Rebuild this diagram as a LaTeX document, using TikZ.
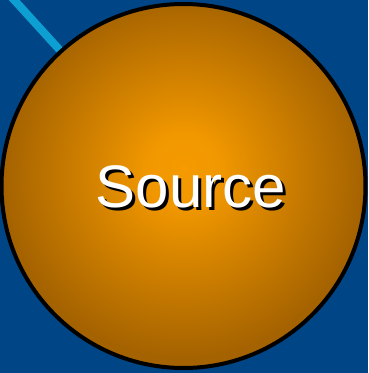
\documentclass[tikz,border=0pt]{standalone}
\usepackage{fontspec}
\setmainfont{Liberation Sans}
\usepackage{xcolor}
\usetikzlibrary{backgrounds}
\definecolor{bgblue}{HTML}{004585}
\definecolor{linkblue}{HTML}{0E9FD2}
\definecolor{glowin}{HTML}{F59A00}
\definecolor{glowout}{HTML}{A46200}
\pgfdeclareradialshading{sourceglow}{\pgfpoint{0bp}{2.5bp}}{%
  color(0bp)=(glowin); color(5bp)=(glowin!95!glowout);
  color(25bp)=(glowout); color(50bp)=(glowout)}

\begin{document}
\begin{tikzpicture}[x=1pt,y=-1pt,
    srcnode/.style={circle, draw=black, line width=4pt, minimum size=364pt,
      inner sep=0pt, shading=sourceglow},
    srclabel/.style={text=white, font=\fontsize{60}{60}\selectfont},
    feed/.style={draw=linkblue, line width=8pt}]
  \useasboundingbox (0,0) rectangle (368,373);
  \node[srcnode] (src) at (183.5,186) {};
  \coordinate (in) at (-4,-20);
  \begin{scope}[on background layer]
    \fill[bgblue] (0,0) rectangle (368,373);
    \draw[feed] (in) -- (src);
  \end{scope}
  \node[srclabel, text=black] (shadow) at (194,190) {Source};
  \node[srclabel] (label) at (191,187) {Source};
\end{tikzpicture}
\end{document}
